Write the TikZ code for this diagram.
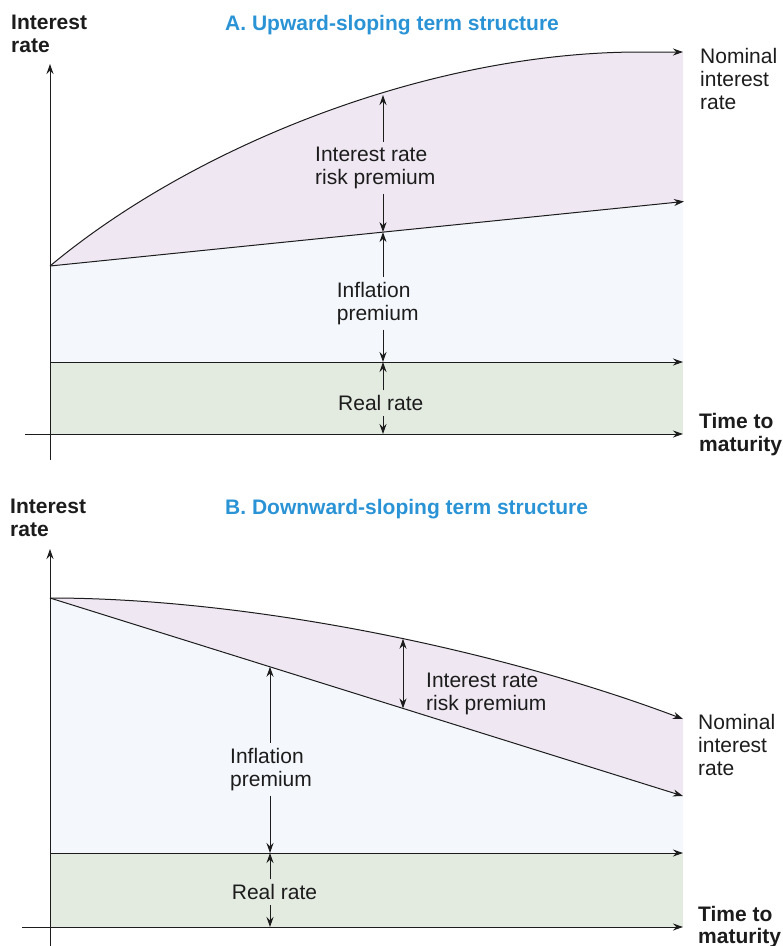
\documentclass[tikz,border=0pt]{standalone}
\usepackage{fontspec}
\setmainfont{Liberation Sans}
\usetikzlibrary{arrows.meta}
\definecolor{ttl}{HTML}{2A93D5}
\definecolor{rpurple}{HTML}{EFE7F2}
\definecolor{rblue}{HTML}{F4F7FB}
\definecolor{rgreen}{HTML}{E3EBE1}
\definecolor{ink}{HTML}{1C1C1C}
\begin{document}
\begin{tikzpicture}[x=1pt,y=-1pt,
  txt/.style={font=\fontsize{21}{23}\selectfont, text=ink, inner xsep=0pt, inner ysep=5pt, align=left, anchor=north west},
  boldtxt/.style={txt, font=\fontsize{21}{23}\selectfont\bfseries},
  ttlstyle/.style={boldtxt, text=ttl},
  ln/.style={draw=ink, line width=1pt},
  tip/.style={-{Stealth[length=10pt,width=7pt]}},
  dtip/.style={{Stealth[length=10pt,width=7pt]}-{Stealth[length=10pt,width=7pt]}}
]
\useasboundingbox (0,0) rectangle (783,946);

%% ---------------- Panel A ----------------
\fill[rpurple] (50,266) .. controls (195,145) and (430,52) .. (640,52) -- (683,52) -- (683,201.5) -- cycle;
\fill[rblue] (50,266) -- (683,201.5) -- (683,362) -- (50,362) -- cycle;
\fill[rgreen] (50,362) rectangle (683,434);

\coordinate (oA) at (50,266);
\coordinate (yA0) at (50,460);
\coordinate (yA1) at (50,64);
\coordinate (xA0) at (25,434);
\coordinate (xA1) at (683,434);
\coordinate (rA0) at (50,362);
\coordinate (rA1) at (683,362);
\coordinate (iA1) at (684,201.5);
\coordinate (nA1) at (683,52);

\draw[ln,tip] (yA0) -- (yA1);
\draw[ln,tip] (xA0) -- (xA1);
\draw[ln,tip] (rA0) -- (rA1);
\draw[ln,tip] (oA) -- (iA1);
\draw[ln,tip] (oA) .. controls (195,145) and (430,52) .. (640,52) -- (nA1);

\node[boldtxt] (ylabA) at (11,10) {Interest\\rate};
\node[ttlstyle] (titleA) at (225,10) {A. Upward-sloping term structure};
\node[txt] (nomA) at (700,43) {Nominal\\interest\\rate};
\node[boldtxt] (timeA) at (699,408) {Time to\\maturity};
\node[txt] (irpA) at (315,141.7) {Interest rate\\risk premium};
\node[txt] (infA) at (336.7,276.7) {Inflation\\premium};
\node[txt] (realA) at (338,390) {Real rate};

\coordinate (pnA) at (383,95);
\coordinate (piA) at (383,232.1);
\coordinate (prA) at (383,362);
\coordinate (pxA) at (383,434);
\draw[ln,tip] (irpA.north -| pnA) -- (pnA);
\draw[ln,tip] (irpA.south -| pnA) -- (piA);
\draw[ln,tip] (infA.north -| pnA) -- (piA);
\draw[ln,tip] (infA.south -| pnA) -- (prA);
\draw[ln,tip] (realA.north -| pnA) -- (prA);
\draw[ln,tip] (realA.south -| pnA) -- (pxA);

%% ---------------- Panel B ----------------
\fill[rpurple] (50,598) .. controls (250,598) and (500,650) .. (683,719) -- (683,796) -- cycle;
\fill[rblue] (50,598) -- (683,796) -- (683,853) -- (50,853) -- cycle;
\fill[rgreen] (50,853) rectangle (683,927);

\coordinate (oB) at (50,598);
\coordinate (yB0) at (50,946);
\coordinate (yB1) at (50,549);
\coordinate (xB0) at (22,927);
\coordinate (xB1) at (683,927);
\coordinate (rB0) at (50,853);
\coordinate (rB1) at (683,853);
\coordinate (iB1) at (683,796);
\coordinate (nB1) at (683,719);

\draw[ln,tip] (yB0) -- (yB1);
\draw[ln,tip] (xB0) -- (xB1);
\draw[ln,tip] (rB0) -- (rB1);
\draw[ln,tip] (oB) -- (iB1);
\draw[ln,tip] (oB) .. controls (250,598) and (500,650) .. (nB1);

\node[boldtxt] (ylabB) at (10,494.3) {Interest\\rate};
\node[ttlstyle] (titleB) at (225,494.3) {B. Downward-sloping term structure};
\node[txt] (nomB) at (698,709.3) {Nominal\\interest\\rate};
\node[boldtxt, font=\fontsize{21}{22}\selectfont\bfseries] (timeB) at (698,900.7) {Time to\\maturity};
\node[txt] (irpB) at (426,667.7) {Interest rate\\risk premium};
\node[txt] (infB) at (230,742.7) {Inflation\\premium};
\node[txt] (realB) at (231.7,879.3) {Real rate};

\coordinate (pnB) at (403,638.8);
\coordinate (piB) at (403,708.4);
\draw[ln,dtip] (pnB) -- (piB);

\coordinate (qiB) at (270,666.8);
\coordinate (qrB) at (270,853);
\coordinate (qxB) at (270,927);
\draw[ln,tip] (infB.north -| qiB) -- (qiB);
\draw[ln,tip] (infB.south -| qiB) -- (qrB);
\draw[ln,tip] (realB.north -| qiB) -- (qrB);
\draw[ln,tip] (realB.south -| qiB) -- (qxB);
\end{tikzpicture}
\end{document}
